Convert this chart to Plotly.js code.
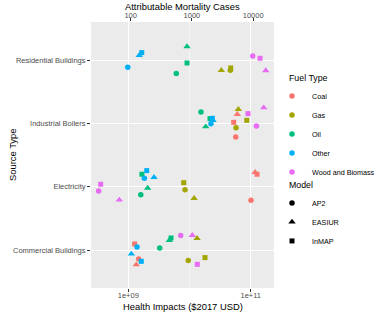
<!DOCTYPE html>
<html><head><meta charset="utf-8">
<script src="https://cdn.plot.ly/plotly-3.0.1.min.js"></script>
<style>html,body{margin:0;padding:0;background:#fff}#chart{width:375px;height:314px}</style>
</head><body><div id="chart"></div>
<script>
const sourceTypes = ['Commercial Buildings','Electricity','Industrial Boilers','Residential Buildings'];
const fuelTypes = ['Coal','Gas','Oil','Other','Wood and Biomass'];
const fuelColors = ['#F8766D','#A3A500','#00BF7D','#00B0F6','#E76BF3'];
const models = ['AP2','EASIUR','InMAP'];
const modelSymbols = ['circle','triangle-up','square'];
const modelSizes = [5.5, 6.5, 5];
const valuePerDeath = 1.095e7; // $ per attributable death (top axis conversion)

const pointSource = [
 'Residential Buildings','Residential Buildings','Residential Buildings','Residential Buildings','Residential Buildings','Residential Buildings',
 'Residential Buildings','Residential Buildings','Residential Buildings','Residential Buildings','Residential Buildings','Residential Buildings',
 'Industrial Boilers','Industrial Boilers','Industrial Boilers','Industrial Boilers','Industrial Boilers','Industrial Boilers','Industrial Boilers',
 'Industrial Boilers','Industrial Boilers','Industrial Boilers','Industrial Boilers','Industrial Boilers','Industrial Boilers','Industrial Boilers','Industrial Boilers',
 'Electricity','Electricity','Electricity','Electricity','Electricity','Electricity','Electricity','Electricity',
 'Electricity','Electricity','Electricity','Electricity','Electricity','Electricity','Electricity',
 'Commercial Buildings','Commercial Buildings','Commercial Buildings','Commercial Buildings','Commercial Buildings','Commercial Buildings','Commercial Buildings','Commercial Buildings',
 'Commercial Buildings','Commercial Buildings','Commercial Buildings','Commercial Buildings','Commercial Buildings','Commercial Buildings','Commercial Buildings'
];
const pointFuel = [
 'Other','Other','Other','Oil','Oil','Oil','Gas','Gas','Gas','Wood and Biomass','Wood and Biomass','Wood and Biomass',
 'Oil','Oil','Other','Other','Oil','Other','Gas','Coal','Wood and Biomass','Wood and Biomass','Gas','Coal','Gas','Wood and Biomass','Coal',
 'Other','Oil','Other','Other','Coal','Coal','Wood and Biomass','Gas','Wood and Biomass','Gas','Oil','Oil','Wood and Biomass','Gas','Coal',
 'Oil','Oil','Wood and Biomass','Wood and Biomass','Gas','Coal','Other','Oil','Other','Coal','Other','Coal','Gas','Gas','Wood and Biomass'
];
const pointModel = [
 'InMAP','EASIUR','AP2','EASIUR','InMAP','AP2','EASIUR','InMAP','AP2','AP2','InMAP','EASIUR',
 'AP2','InMAP','InMAP','AP2','EASIUR','EASIUR','EASIUR','EASIUR','InMAP','EASIUR','InMAP','InMAP','AP2','AP2','AP2',
 'InMAP','InMAP','AP2','EASIUR','EASIUR','InMAP','InMAP','InMAP','AP2','AP2','EASIUR','AP2','EASIUR','EASIUR','AP2',
 'EASIUR','InMAP','AP2','EASIUR','EASIUR','InMAP','AP2','AP2','EASIUR','AP2','InMAP','EASIUR','AP2','InMAP','InMAP'
];
const healthImpacts = [
 1.66e9,1.51e9,9.8e8,9.1e9,9.1e9,6.08e9,3.31e10,4.71e10,4.65e10,1.08e11,1.42e11,1.76e11,
 1.54e10,2.16e10,2.36e10,2.24e10,1.84e10,2.42e10,6.27e10,6.04e10,9.03e10,1.63e11,8.61e10,5.27e10,5.75e10,1.24e11,5.69e10,
 2.0e9,1.67e9,1.83e9,2.63e9,1.18e11,1.27e11,3.54e8,8.04e9,3.28e8,8.44e9,2.07e9,1.60e9,7.13e8,1.19e10,1.01e11,
 4.68e9,4.99e9,7.18e9,1.11e10,1.33e10,1.27e9,1.39e9,3.26e9,1.12e9,1.48e9,1.63e9,1.35e9,9.55e9,1.79e10,1.34e10
];
const jitterOffset = [
 0.117,0.074,-0.115,0.212,-0.047,-0.215,-0.163,-0.126,-0.163,0.063,0.027,-0.167,
 0.179,0.074,0.079,-0.005,-0.052,0.047,0.221,0.142,0.153,0.248,0.047,0.016,-0.068,-0.043,-0.216,
 0.253,0.196,0.133,0.148,0.227,0.196,0.038,0.063,-0.068,-0.047,-0.021,-0.126,-0.210,-0.183,-0.215,
 0.153,0.190,0.227,0.232,0.185,0.095,0.047,0.032,-0.063,-0.142,-0.179,-0.231,-0.167,-0.120,-0.226
];

const FONT = 'Liberation Sans, Arial, sans-serif';
const traces = [];
fuelTypes.forEach((f, fi) => {
  models.forEach((m, mi) => {
    const idx = healthImpacts.map((_, i) => i).filter(i => pointFuel[i] === f && pointModel[i] === m);
    if (!idx.length) return;
    traces.push({
      type: 'scatter', mode: 'markers', showlegend: false, hoverinfo: 'skip',
      x: idx.map(i => healthImpacts[i]),
      y: idx.map(i => sourceTypes.indexOf(pointSource[i]) + 1 + jitterOffset[i]),
      marker: {color: fuelColors[fi], symbol: modelSymbols[mi], size: modelSizes[mi], line: {width: 0}}
    });
  });
});
// mortality (top axis) carrier trace, invisible
traces.push({
  type: 'scatter', mode: 'markers', showlegend: false, hoverinfo: 'skip', xaxis: 'x2', yaxis: 'y',
  x: healthImpacts.map(v => v / valuePerDeath),
  y: healthImpacts.map((_, i) => sourceTypes.indexOf(pointSource[i]) + 1 + jitterOffset[i]),
  marker: {opacity: 0, size: 1}
});
fuelTypes.forEach((f, fi) => traces.push({
  type: 'scatter', mode: 'markers', x: [null], y: [null], name: f, legend: 'legend',
  marker: {color: fuelColors[fi], symbol: 'circle', size: 5.5}
}));
models.forEach((m, mi) => traces.push({
  type: 'scatter', mode: 'markers', x: [null], y: [null], name: m, legend: 'legend2',
  marker: {color: '#000000', symbol: modelSymbols[mi], size: modelSizes[mi]}
}));

const lo = 8.391, hi = 11.38, off = Math.log10(valuePerDeath);
const TICKF = {family: FONT, size: 7.5, color: '#4D4D4D'};
const TITLEF = {family: FONT, size: 9.4, color: '#000000'};
const layout = {
  width: 375, height: 314,
  margin: {l: 91, r: 101, t: 22, b: 26},
  paper_bgcolor: '#ffffff', plot_bgcolor: '#EBEBEB',
  font: {family: FONT, size: 7.5, color: '#4D4D4D'},
  xaxis: {
    type: 'log', range: [lo, hi], tickvals: [1e9, 1e11], ticktext: ['1e+09', '1e+11'],
    showgrid: true, gridcolor: '#ffffff', gridwidth: 1, zeroline: false, showline: false,
    ticks: 'outside', ticklen: 3, tickcolor: '#333333', tickwidth: 1, ticklabelstandoff: -3,
    tickfont: TICKF,
    minor: {tickvals: [1e10], showgrid: true, gridcolor: '#ffffff', gridwidth: 0.5, ticks: ''}
  },
  xaxis2: {
    type: 'log', overlaying: 'x', side: 'top', range: [lo - off, hi - off],
    tickvals: [100, 1000, 10000], ticktext: ['100', '1000', '10000'],
    showgrid: false, zeroline: false, showline: false,
    ticks: 'outside', ticklen: 3, tickcolor: '#333333', tickwidth: 1, ticklabelstandoff: -3,
    tickfont: TICKF
  },
  yaxis: {
    range: [0.4, 4.6], tickvals: [1, 2, 3, 4], ticktext: sourceTypes,
    showgrid: true, gridcolor: '#ffffff', gridwidth: 1, zeroline: false, showline: false,
    ticks: 'outside', ticklen: 3, tickcolor: '#333333', tickwidth: 1,
    tickfont: TICKF
  },
  annotations: [
    {text: 'Attributable Mortality Cases', xref: 'paper', yref: 'paper', x: 0.5, y: (288 - 7) / 266,
     xanchor: 'center', yanchor: 'middle', showarrow: false, font: TITLEF},
    {text: 'Health Impacts ($2017 USD)', xref: 'paper', yref: 'paper', x: 0.5, y: (288 - 306.5) / 266,
     xanchor: 'center', yanchor: 'middle', showarrow: false, font: TITLEF},
    {text: 'Source Type', xref: 'paper', yref: 'paper', x: (12 - 91) / 183, y: (288 - 155) / 266,
     xanchor: 'center', yanchor: 'middle', textangle: -90, showarrow: false, font: TITLEF}
  ],
  legend: {
    xref: 'container', yref: 'container', x: 287 / 375, y: 1 - 70 / 314, xanchor: 'left', yanchor: 'top',
    title: {text: 'Fuel Type', font: {family: FONT, size: 8.8, color: '#000000'}},
    font: {family: FONT, size: 7.2, color: '#000000'}, bgcolor: 'rgba(0,0,0,0)', indentation: -15, itemwidth: 30
  },
  legend2: {
    xref: 'container', yref: 'container', x: 287 / 375, y: 1 - 177 / 314, xanchor: 'left', yanchor: 'top',
    title: {text: 'Model', font: {family: FONT, size: 8.8, color: '#000000'}},
    font: {family: FONT, size: 7.2, color: '#000000'}, bgcolor: 'rgba(0,0,0,0)', indentation: -15, itemwidth: 30
  },
  showlegend: true
};
Plotly.newPlot('chart', traces, layout, {staticPlot: true, displayModeBar: false});
</script>
</body></html>
